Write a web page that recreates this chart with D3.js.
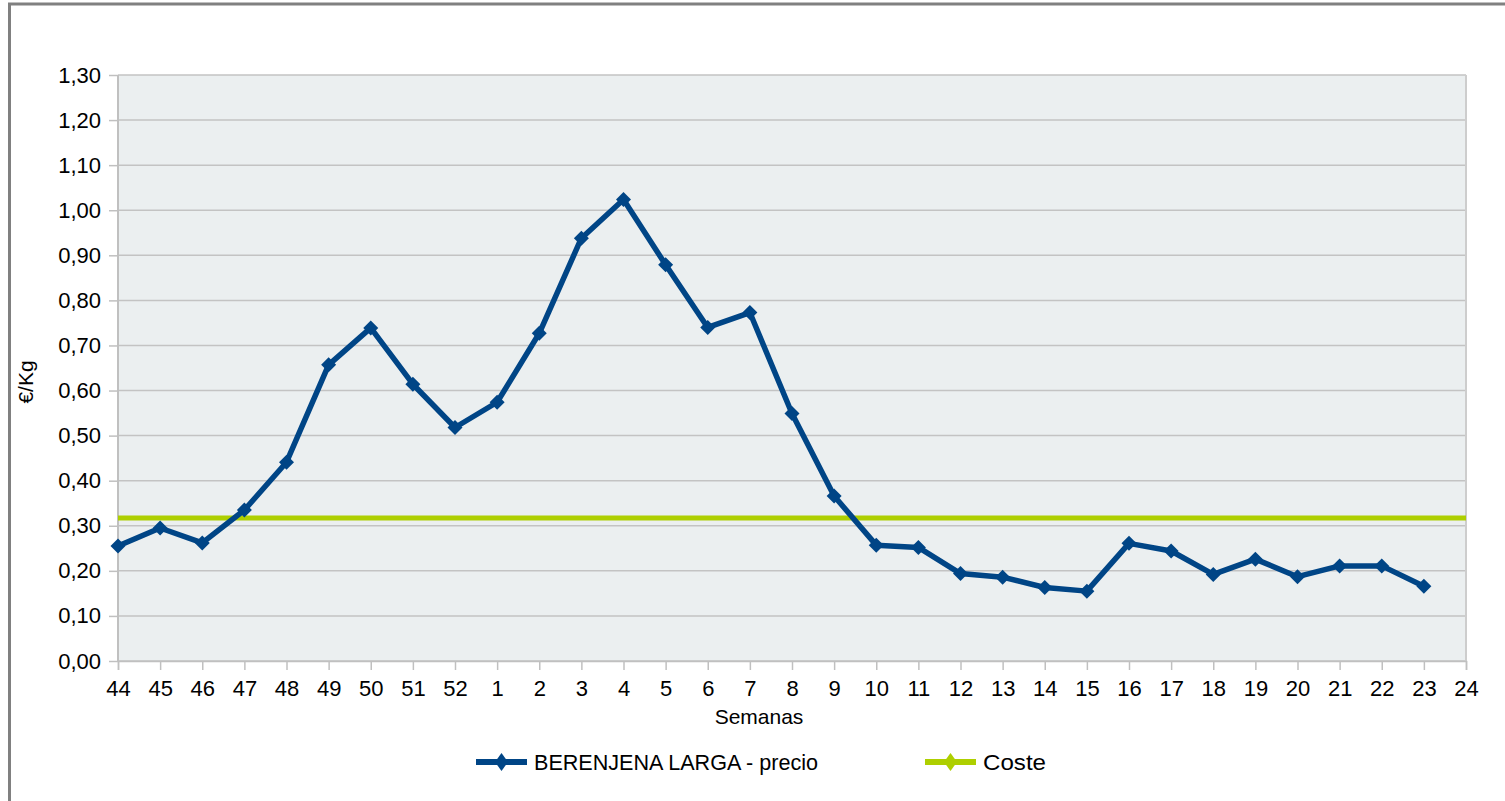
<!DOCTYPE html>
<html>
<head>
<meta charset="utf-8">
<script src="https://cdn.jsdelivr.net/npm/d3@7"></script>
<style>
  html, body { margin: 0; padding: 0; background: #ffffff; }
  svg { display: block; }
</style>
</head>
<body>
<svg id="chart" width="1505" height="801"></svg>
<script>
const weeks = ["44","45","46","47","48","49","50","51","52","1","2","3","4","5","6","7","8","9","10","11","12","13","14","15","16","17","18","19","20","21","22","23","24"];
const precio = [0.255,0.295,0.262,0.335,0.441,0.657,0.739,0.614,0.518,0.574,0.727,0.938,1.024,0.879,0.740,0.773,0.549,0.366,0.257,0.252,0.194,0.186,0.163,0.155,0.261,0.244,0.192,0.226,0.187,0.211,0.211,0.166,null];
const coste = weeks.map(() => 0.317);
const yTicks = [0,0.1,0.2,0.3,0.4,0.5,0.6,0.7,0.8,0.9,1.0,1.1,1.2,1.3];
const seriesNames = ["BERENJENA LARGA - precio", "Coste"];

const svg = d3.select("#chart");
const L = 118, R = 1466, T = 75, B = 661;
const x = d3.scalePoint().domain(weeks).range([L, R]);
const y = d3.scaleLinear().domain([0, 1.3]).range([B, T]);
const fmt = v => d3.format(".2f")(v).replace(".", ",");
const tickFont = "Liberation Sans, Arial, sans-serif";

// outer frame
svg.append("rect").attr("x", 9.5).attr("y", 4).attr("width", 1600).attr("height", 900)
  .attr("fill", "none").attr("stroke", "#808080").attr("stroke-width", 3);

// plot background
svg.append("rect").attr("x", L).attr("y", T).attr("width", R - L).attr("height", B - T)
  .attr("fill", "#ebeff0");

// y grid + axis
const yAxis = d3.axisLeft(y).tickValues(yTicks).tickFormat(fmt).tickSize(9).tickPadding(8);
const gy = svg.append("g").attr("transform", `translate(${L},0)`).call(yAxis);
gy.select(".domain").remove();
gy.selectAll(".tick line").attr("stroke", "#c0c0c0").attr("stroke-width", 1.5);
gy.selectAll(".tick text").attr("font-family", tickFont).attr("font-size", 22).attr("fill", "#000");

svg.append("g").selectAll("line").data(yTicks).join("line")
  .attr("x1", L).attr("x2", R).attr("y1", d => y(d)).attr("y2", d => y(d))
  .attr("stroke", "#c3c3c3").attr("stroke-width", 1.5);

// vertical border lines
svg.append("line").attr("x1", L).attr("x2", L).attr("y1", T).attr("y2", B)
  .attr("stroke", "#c0c0c0").attr("stroke-width", 2);
svg.append("line").attr("x1", R).attr("x2", R).attr("y1", T).attr("y2", B)
  .attr("stroke", "#cdcdcd").attr("stroke-width", 2);

// x axis
const xAxis = d3.axisBottom(x).tickSize(9).tickPadding(10);
const gx = svg.append("g").attr("transform", `translate(0,${B})`).call(xAxis);
gx.select(".domain").attr("stroke", "#c0c0c0").attr("stroke-width", 1.5);
gx.selectAll(".tick line").attr("stroke", "#c0c0c0").attr("stroke-width", 1.5);
gx.selectAll(".tick text").attr("font-family", tickFont).attr("font-size", 22).attr("fill", "#000");

// axis titles
svg.append("text").attr("x", 759).attr("y", 724).attr("text-anchor", "middle")
  .attr("font-family", tickFont).attr("font-size", 21).attr("fill", "#000").text("Semanas");
svg.append("text").attr("transform", "translate(33,382) rotate(-90)").attr("text-anchor", "middle")
  .attr("font-family", tickFont).attr("font-size", 21).attr("fill", "#000").text("€/Kg");

// coste line
const line = d3.line().defined(d => d[1] != null).x(d => x(d[0])).y(d => y(d[1]));
svg.append("path").datum(weeks.map((w, i) => [w, coste[i]]))
  .attr("d", line).attr("fill", "none").attr("stroke", "#aecf00").attr("stroke-width", 5);

// precio line
const pdata = weeks.map((w, i) => [w, precio[i]]).filter(d => d[1] != null);
svg.append("path").datum(pdata).attr("d", line).attr("fill", "none")
  .attr("stroke", "#004586").attr("stroke-width", 5.5).attr("stroke-linejoin", "round");
const diamond = (cx, cy, hw, hh) => `M${cx},${cy - hh}L${cx + hw},${cy}L${cx},${cy + hh}L${cx - hw},${cy}Z`;
svg.append("g").selectAll("path").data(pdata).join("path")
  .attr("d", d => diamond(x(d[0]), y(d[1]), 7.5, 7.5)).attr("fill", "#004586");

// legend
const ly = 762;
const leg = [
  { name: seriesNames[0], color: "#004586", x0: 476, tx: 534, tw: 284 },
  { name: seriesNames[1], color: "#aecf00", x0: 925, tx: 983, tw: 63 }
];
leg.forEach(l => {
  svg.append("line").attr("x1", l.x0).attr("x2", l.x0 + 51).attr("y1", ly).attr("y2", ly)
    .attr("stroke", l.color).attr("stroke-width", 6);
  svg.append("path").attr("d", diamond(l.x0 + 25.5, ly, 6.5, 9)).attr("fill", l.color);
  svg.append("text").attr("x", l.tx).attr("y", ly + 8).attr("font-family", tickFont)
    .attr("font-size", 22).attr("fill", "#000")
    .attr("textLength", l.tw).attr("lengthAdjust", "spacingAndGlyphs").text(l.name);
});
</script>
</body>
</html>
